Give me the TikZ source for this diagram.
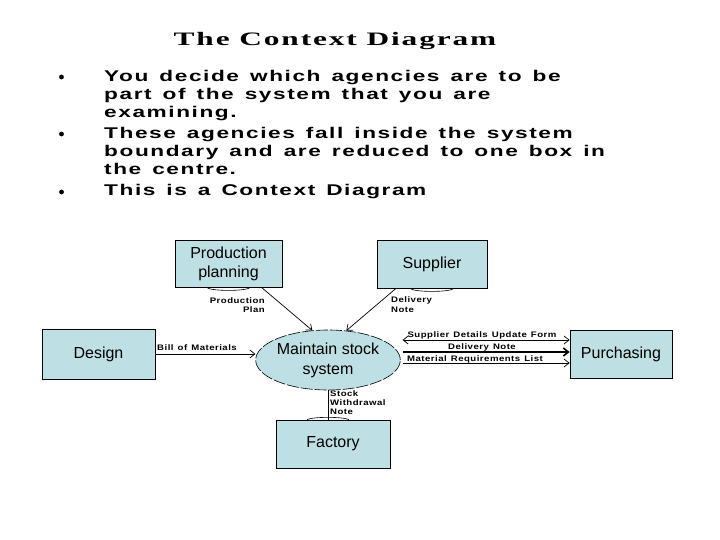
\documentclass[tikz,border=0pt]{standalone}
\usepackage{fontspec}
\setmainfont{Liberation Sans}
\newfontfamily\titlefont[LetterSpace=6]{Liberation Serif}
\newfontfamily\bulletfont[LetterSpace=7,WordSpace=1.4]{Liberation Sans}
\newfontfamily\labfont[LetterSpace=5,WordSpace=1.3]{Liberation Sans}
\usetikzlibrary{arrows.meta,shapes.geometric}
\definecolor{boxfill}{RGB}{190,224,228}
\newcommand\widetext[2]{\scalebox{#1}[1]{#2}}
\tikzset{
  box/.style={draw, fill=boxfill, line width=0.8pt, inner sep=0pt, align=center,
    font=\fontsize{16}{19}\selectfont},
  proc/.style={ellipse, draw, fill=boxfill, line width=0.6pt, dash pattern=on 12pt off 2pt,
    inner sep=0pt, align=center, font=\fontsize{16}{20}\selectfont},
  flow/.style={line width=0.7pt, -{Straight Barb[length=5pt,width=8pt]}},
  lab/.style={inner sep=0pt, font=\labfont\bfseries\fontsize{8}{8.5}\selectfont},
  bline/.style={anchor=base west, inner sep=0pt, font=\bulletfont\bfseries\fontsize{15.5}{18}\selectfont},
  lip/.style={line width=0.6pt}
}
\begin{document}
\begin{tikzpicture}[x=1pt,y=-1pt]
\useasboundingbox (0,0) rectangle (720,540);
\fill[white] (0,0) rectangle (720,540);

% title
\node[anchor=base, inner sep=0pt, font=\titlefont\bfseries\fontsize{19}{22}\selectfont] (title) at (335,46) {\widetext{1.65}{The Context Diagram}};

% bullets
\foreach \n/\yy in {b1/77, b2/134, b3/192} \fill (61.5,\yy) circle (2.4);
\node[bline] (l1) at (104,82) {\widetext{1.46}{You decide which agencies are to be}};
\node[bline] (l2) at (104,100) {\widetext{1.46}{part of  the system that you are}};
\node[bline] (l3) at (104,118) {\widetext{1.46}{examining.}};
\node[bline] (l4) at (104,139) {\widetext{1.46}{These agencies fall inside the system}};
\node[bline] (l5) at (104,157) {\widetext{1.46}{boundary and are reduced to one box in}};
\node[bline] (l6) at (104,175) {\widetext{1.46}{the centre.}};
\node[bline] (l7) at (104,196) {\widetext{1.46}{This is a Context Diagram}};

% boxes
\node[box, minimum width=107pt, minimum height=47pt] (pp) at (228.5,263.5) {Production\\planning};
\node[box, minimum width=110pt, minimum height=48pt] (sup) at (432,264) {Supplier};
\node[box, minimum width=113pt, minimum height=50pt] (des) at (98.5,354) {Design};
\node[box, minimum width=102pt, minimum height=48pt] (pur) at (621,354) {Purchasing};
\node[box, minimum width=114pt, minimum height=48pt] (fac) at (333,444) {Factory};
\node[proc, minimum width=127pt, minimum height=60pt] (ell) at (328,360) {Maintain stock\\system};

% lips
\draw[lip] ([xshift=-22pt]pp.south) .. controls ([xshift=-18pt,yshift=-4pt]pp.south) and ([xshift=18pt,yshift=-4pt]pp.south) .. ([xshift=22pt]pp.south);
\draw[lip] ([xshift=-22pt]sup.south) .. controls ([xshift=-18pt,yshift=-4pt]sup.south) and ([xshift=18pt,yshift=-4pt]sup.south) .. ([xshift=22pt]sup.south);
\draw[lip] ([xshift=-26pt]fac.north) .. controls ([xshift=-20pt,yshift=3pt]fac.north) and ([xshift=10pt,yshift=3pt]fac.north) .. ([xshift=16pt]fac.north);

% flows
\draw[flow] ([xshift=33pt]pp.south) -- (ell.118);
\draw[flow] ([xshift=-36pt]sup.south) -- (ell.58);
\draw[flow] (des.east) -- (des.east -| ell.west);
\path ([xshift=2pt,yshift=20pt]ell.east) coordinate (r1)
      ([xshift=2pt,yshift=8pt]ell.east) coordinate (r2)
      ([xshift=2pt,yshift=-3pt]ell.east) coordinate (r3);
\draw[flow, {Straight Barb[length=5pt,width=8pt]}-{Straight Barb[length=5pt,width=8pt]}] (r1) -- (r1 -| pur.west);
\draw[flow, line width=1.6pt] (r2) -- (r2 -| pur.west);
\draw[flow] (r3) -- (r3 -| pur.west);
\draw[line width=1pt] (ell.south) -- (ell.south |- fac.north);

% labels
\node[lab, anchor=east] (lpp) at (265,305) {\widetext{1.2}{\shortstack[r]{Production\\Plan}}};
\node[lab, anchor=west] (lsup) at (391,305) {\widetext{1.2}{\shortstack[l]{Delivery\\Note}}};
\node[lab, anchor=south west] (lbom) at (157,351) {\widetext{1.2}{Bill of Materials}};
\node[lab] (lsdu) at (482,335.5) {\widetext{1.2}{Supplier Details Update Form}};
\node[lab] (ldn) at (482,347.5) {\widetext{1.2}{Delivery Note}};
\node[lab] (lmrl) at (475,359) {\widetext{1.2}{Material Requirements List}};
\node[lab, anchor=north west] (lswn) at (330,391) {\widetext{1.2}{\shortstack[l]{Stock\\Withdrawal\\Note}}};
\end{tikzpicture}
\end{document}
